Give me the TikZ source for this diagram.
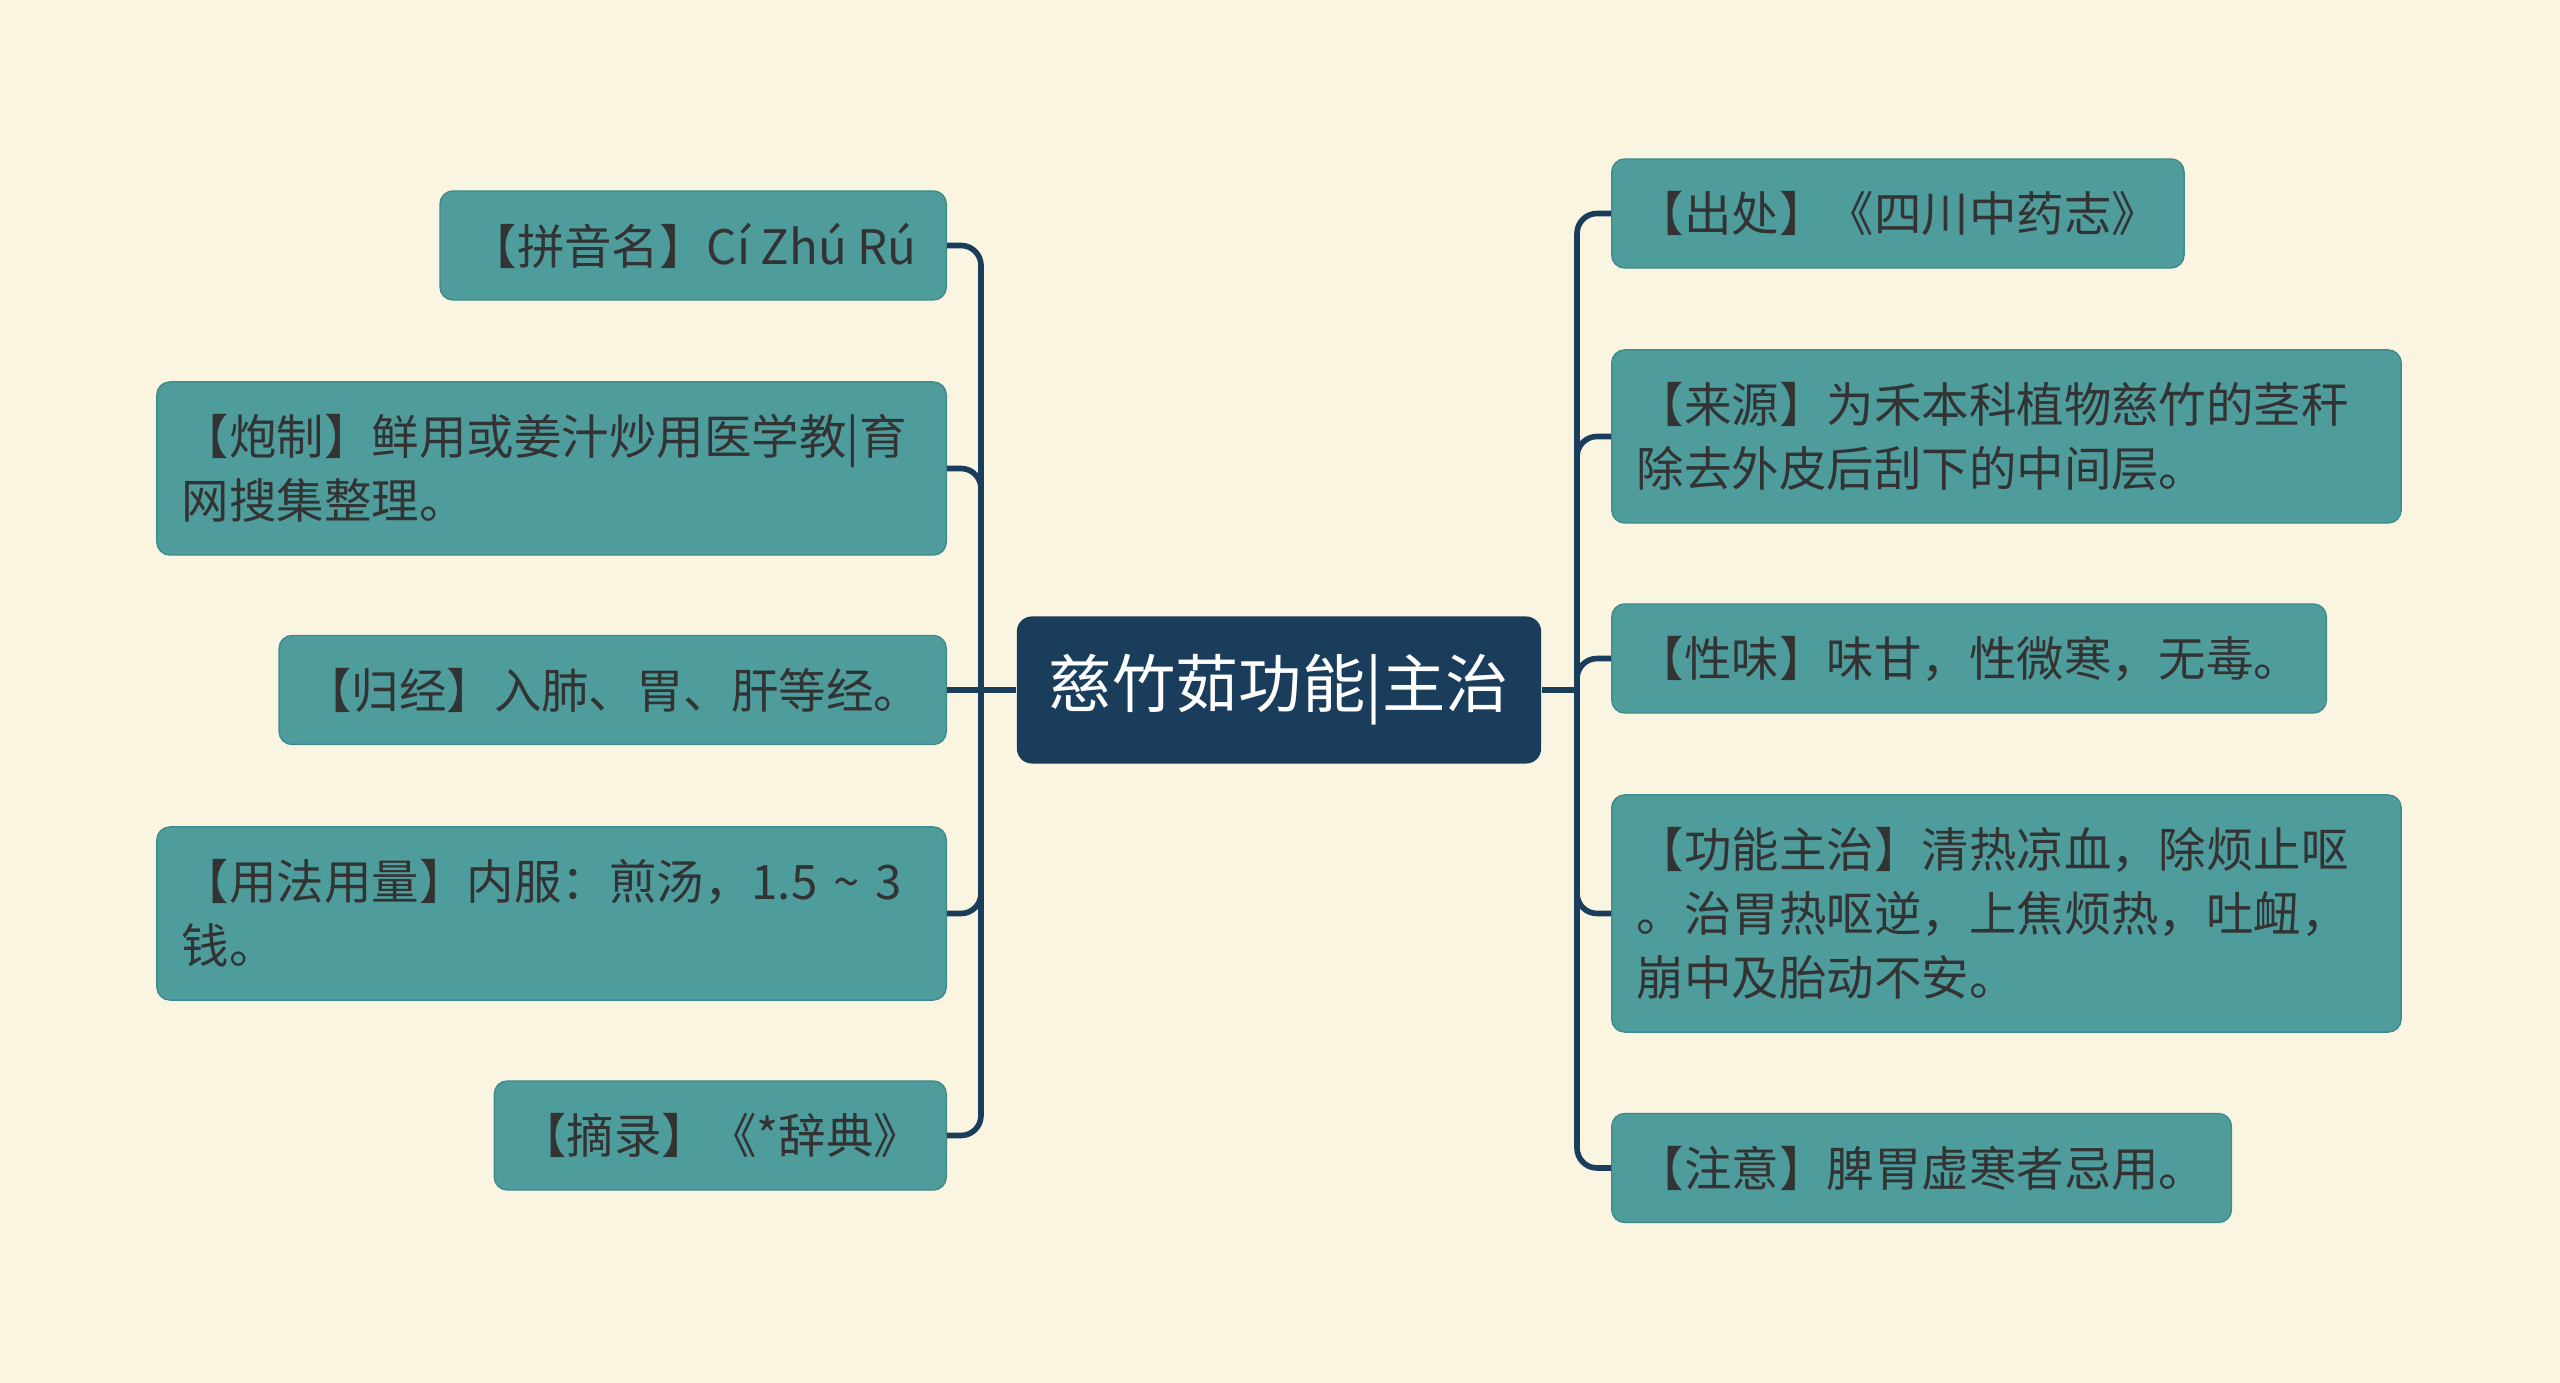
\documentclass[tikz,border=0pt]{standalone}
\usepackage{fontspec}
\newfontfamily\cjk{Noto Sans CJK SC}
\usepackage{xcolor}
\definecolor{mybg}{HTML}{FAF5E1}
\definecolor{myteal}{HTML}{4E9C9C}
\definecolor{myedge}{HTML}{3F8B8B}
\definecolor{mynavy}{HTML}{1A3D5C}
\definecolor{mytext}{HTML}{333333}
\usepackage{tikz}
\tikzset{
  topic/.style={draw=myedge, line width=0.4pt, fill=myteal, text=mytext,
    rounded corners=0.13cm, inner xsep=0.25cm, inner ysep=0pt,
    font=\cjk\fontsize{13.5}{18.2}\selectfont, minimum height=1.09cm},
  wide/.style={text width=7.39cm, align=left},
  root/.style={fill=mynavy, text=white, rounded corners=0.15cm,
    minimum width=5.24cm, minimum height=1.47cm,
    font=\cjk\fontsize{18}{22}\selectfont},
  link/.style={draw=mynavy, line width=1.6pt, rounded corners=0.2cm},
}
\begin{document}
\begin{tikzpicture}[x=0.01cm, y=-0.01cm]
  \fill[mybg] (0,0) rectangle (2560,1383);

  \node[root] (root) at (1279,690) {慈竹茹功能|主治};
  \coordinate (lbus) at (981,690);
  \coordinate (rbus) at (1577,690);

  % left side
  \node[topic, anchor=east, minimum width=5.06cm] (pinyin) at (947,245.5) {【拼音名】Cí Zhú Rú};
  \node[topic, wide, anchor=east, minimum height=1.73cm] (paozhi) at (947,468.5) {【炮制】鲜用或姜汁炒用医学教|育\\网搜集整理。};
  \node[topic, anchor=east, minimum width=6.66cm] (guijing) at (947,690) {【归经】入肺、胃、肝等经。};
  \node[topic, wide, anchor=east, minimum height=1.73cm] (yongfa) at (947,913.5) {【用法用量】内服：煎汤，1.5 \textasciitilde{} 3\\钱。};
  \node[topic, anchor=east, minimum width=4.49cm] (zhailu) at (947,1135.5) {【摘录】《*辞典》};

  % right side
  \node[topic, anchor=west, minimum width=5.72cm] (chuchu) at (1611,213.5) {【出处】《四川中药志》};
  \node[topic, wide, anchor=west, minimum height=1.73cm] (laiyuan) at (1611,436.5) {【来源】为禾本科植物慈竹的茎秆\\除去外皮后刮下的中间层。};
  \node[topic, anchor=west, minimum width=7.14cm] (xingwei) at (1611,658.5) {【性味】味甘，性微寒，无毒。};
  \node[topic, wide, anchor=west, minimum height=2.37cm] (gongneng) at (1611,913.5) {【功能主治】清热凉血，除烦止呕\\。治胃热呕逆，上焦烦热，吐衄，\\崩中及胎动不安。};
  \node[topic, anchor=west, minimum width=6.19cm] (zhuyi) at (1611,1168) {【注意】脾胃虚寒者忌用。};

  \draw[link] (root.west) -- (lbus) -- (guijing.east);
  \draw[link] (root.east) -- (rbus);
  \foreach \n in {pinyin,paozhi,yongfa,zhailu}
    \draw[link] (lbus) |- (\n.east);
  \foreach \n in {chuchu,laiyuan,xingwei,gongneng,zhuyi}
    \draw[link] (rbus) |- (\n.west);
\end{tikzpicture}
\end{document}
